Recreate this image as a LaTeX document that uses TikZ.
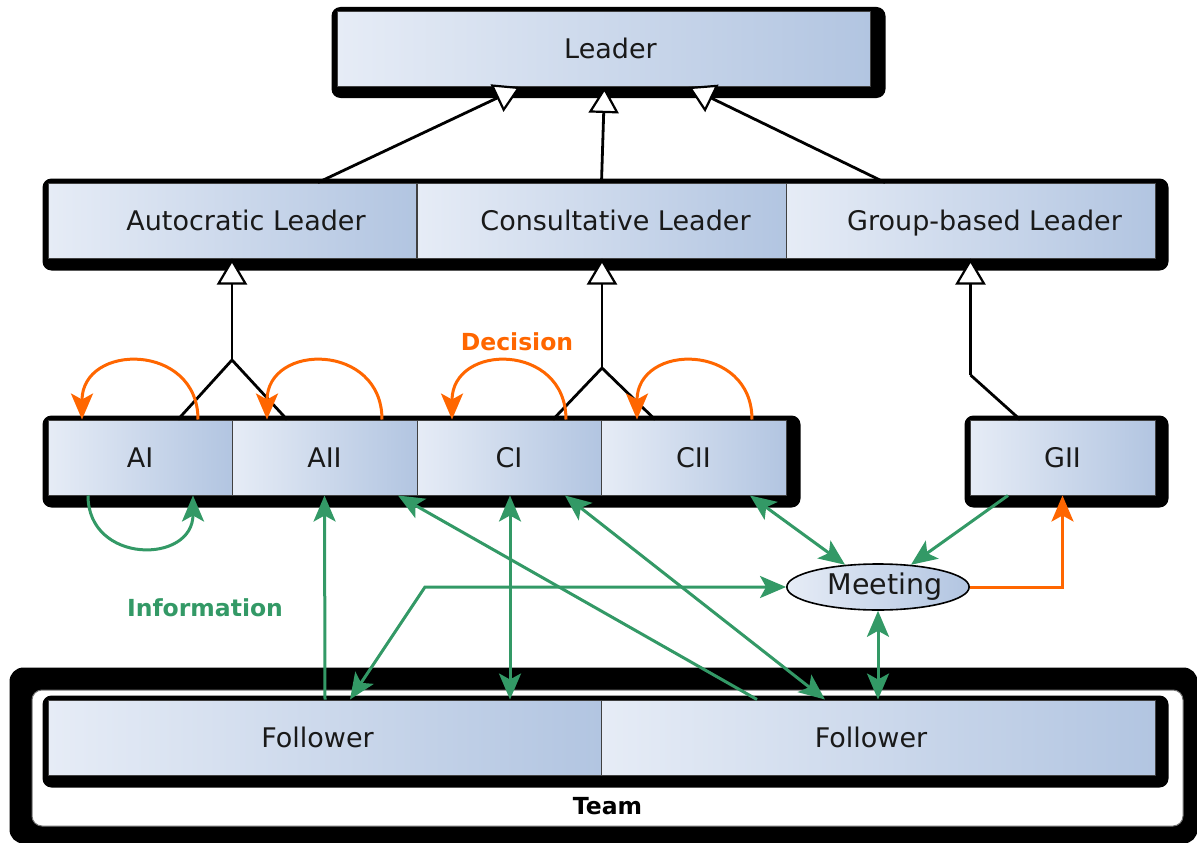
\documentclass[tikz,border=0pt]{standalone}
\usepackage{fontspec}
\setmainfont{DejaVu Sans}
\usetikzlibrary{arrows.meta,shapes.geometric,calc}
\definecolor{boxlight}{HTML}{E6ECF6}
\definecolor{boxdark}{HTML}{B2C5E1}
\definecolor{decor}{HTML}{FF6600}
\definecolor{infog}{HTML}{339966}
\pgfdeclarelayer{teamback}
\pgfdeclarelayer{teamfront}
\pgfdeclarelayer{shade}
\pgfsetlayers{teamback,teamfront,shade,main}
\begin{document}
\begin{tikzpicture}[x=1pt,y=-1pt,
  box/.style={rectangle, draw=black!75, line width=1pt, left color=boxlight, right color=boxdark,
    minimum height=75pt, inner sep=0pt, font=\fontsize{27}{32}\selectfont, text=black!90,
    text height=19.7pt, text depth=0pt},
  meetbox/.style={ellipse, draw=black, line width=1.6pt, left color=boxlight, right color=boxdark,
    minimum width=178pt, minimum height=46pt, inner sep=0pt, font=\fontsize{28.5}{33}\selectfont, text=black!90},
  teambox/.style={rectangle, draw=black!55, line width=1pt, fill=white, rounded corners=10pt,
    minimum width=1151pt, minimum height=136pt, inner sep=0pt},
  shadowfill/.style={fill=black, rounded corners=9pt},
  inherit/.style={draw=black, line width=2.8pt, -{Triangle[open, fill=white, length=26pt, width=30pt, line width=2.2pt]}},
  joinline/.style={draw=black, line width=2.8pt},
  info/.style={draw=infog, line width=3pt, -{Stealth[length=26pt, width=22pt, inset=6pt]}},
  infoboth/.style={draw=infog, line width=3pt, {Stealth[length=26pt, width=22pt, inset=6pt]}-{Stealth[length=26pt, width=22pt, inset=6pt]}},
  decide/.style={draw=decor, line width=3pt, -{Stealth[length=26pt, width=22pt, inset=6pt]}},
  tag/.style={font=\bfseries\fontsize{23.5}{28}\selectfont, inner sep=0pt}
]
\useasboundingbox (0,0) rectangle (1197,843);

% nodes
\node[box, minimum width=533pt] (Leader) at (603.5,49) {\hspace*{14pt}Leader};
\node[box, minimum width=368pt] (Auto) at (232,220.5) {\hspace*{28pt}Autocratic Leader};
\node[box, minimum width=369pt] (Consult) at (601.5,220.5) {\hspace*{28pt}Consultative Leader};
\node[box, minimum width=369pt] (Group) at (970.5,220.5) {\hspace*{28pt}Group-based Leader};
\node[box, minimum width=184pt] (AI) at (140,457.5) {AI};
\node[box, minimum width=185pt] (AII) at (324.5,457.5) {AII};
\node[box, minimum width=184pt] (CI) at (509,457.5) {CI};
\node[box, minimum width=185pt] (CII) at (693.5,457.5) {CII};
\node[box, minimum width=185pt] (GII) at (1062.5,457.5) {GII};
\node[meetbox] (Meeting) at (878,587) {\hspace*{14pt}Meeting};
\node[box, minimum width=553pt] (F1) at (324.5,737.5) {Follower\hspace*{14pt}};
\node[box, minimum width=554pt] (F2) at (878,737.5) {Follower\hspace*{14pt}};
\begin{pgfonlayer}{teamfront}
\node[teambox, label={[anchor=center, yshift=20pt, inner sep=0pt, font=\bfseries\fontsize{23.5}{28}\selectfont]south:Team}] (Team) at (607.5,758) {};
\end{pgfonlayer}
\node[tag, text=decor] (Decision) at (517,342) {Decision};
\node[tag, text=infog] (Information) at (205,608) {Information};

% shadows
\begin{pgfonlayer}{teamback}
\fill[shadowfill, rounded corners=14pt] ([shift={(-22,-22)}]Team.north west) rectangle ([shift={(14,17)}]Team.south east);
\end{pgfonlayer}
\begin{pgfonlayer}{shade}
\fill[shadowfill] ([shift={(-5,-4)}]Leader.north west) rectangle ([shift={(15,11)}]Leader.south east);
\fill[shadowfill] ([shift={(-5,-4)}]Auto.north west) rectangle ([shift={(13,12)}]Group.south east);
\fill[shadowfill] ([shift={(-5,-4)}]AI.north west) rectangle ([shift={(14,12)}]CII.south east);
\fill[shadowfill] ([shift={(-5,-4)}]GII.north west) rectangle ([shift={(13,12)}]GII.south east);
\fill[shadowfill] ([shift={(-5,-4)}]F1.north west) rectangle ([shift={(13,12)}]F2.south east);
\end{pgfonlayer}

% inheritance
\draw[inherit] ([xshift=86pt]Auto.north) -- ([xshift=-83pt]Leader.south);
\draw[inherit] (Consult.north) -- ([xshift=1pt]Leader.south);
\draw[inherit] ([xshift=-85.5pt]Group.north) -- ([xshift=85pt]Leader.south);

\coordinate (JA) at (232,360);
\coordinate (JC) at (602,368);
\coordinate (JG) at (970.5,375);
\draw[joinline] ([xshift=38pt]AI.north) -- (JA) -- ([xshift=-37.5pt]AII.north);
\draw[inherit] (JA) -- (Auto.south);
\draw[joinline] ([xshift=44pt]CI.north) -- (JC) -- ([xshift=-38.5pt]CII.north);
\draw[inherit] (JC) -- ([xshift=0.5pt]Consult.south);
\draw[joinline] ([xshift=-42.5pt]GII.north) -- (JG);
\draw[inherit] (JG) -- (Group.south);

% decision loops
\draw[decide] ([xshift=58pt]AI.north) .. controls +(0,-77) and +(0,-77) .. ([xshift=-58pt]AI.north);
\draw[decide] ([xshift=57.5pt]AII.north) .. controls +(0,-77) and +(0,-77) .. ([xshift=-57.5pt]AII.north);
\draw[decide] ([xshift=57pt]CI.north) .. controls +(0,-77) and +(0,-77) .. ([xshift=-57pt]CI.north);
\draw[decide] ([xshift=58.5pt]CII.north) .. controls +(0,-77) and +(0,-77) .. ([xshift=-56.5pt]CII.north);
\draw[decide] (Meeting.east) -| (GII.south);

% information
\draw[info] ([xshift=-52pt]AI.south) .. controls +(0,69) and +(0,69) .. ([xshift=53pt]AI.south);
\draw[info] ([xshift=0.5pt]F1.north) -- (AII.south);
\draw[info] ([xshift=-121pt]F2.north) -- ([xshift=73.5pt]AII.south);
\draw[infoboth] ([xshift=1pt]CI.south) -- ([xshift=185.5pt]F1.north);
\draw[infoboth] ([xshift=56pt]CI.south) -- ([xshift=-53pt]F2.north);
\draw[infoboth] ([xshift=56.5pt]CII.south) -- (Meeting.146);
\draw[info] ([xshift=-54.5pt]GII.south) -- (Meeting.34);
\draw[infoboth] (Meeting.south) -- (F2.north);
\coordinate (bend) at (425,587);
\draw[infoboth] ([xshift=25.5pt]F1.north) -- (bend) -- (Meeting.west);
\end{tikzpicture}
\end{document}
